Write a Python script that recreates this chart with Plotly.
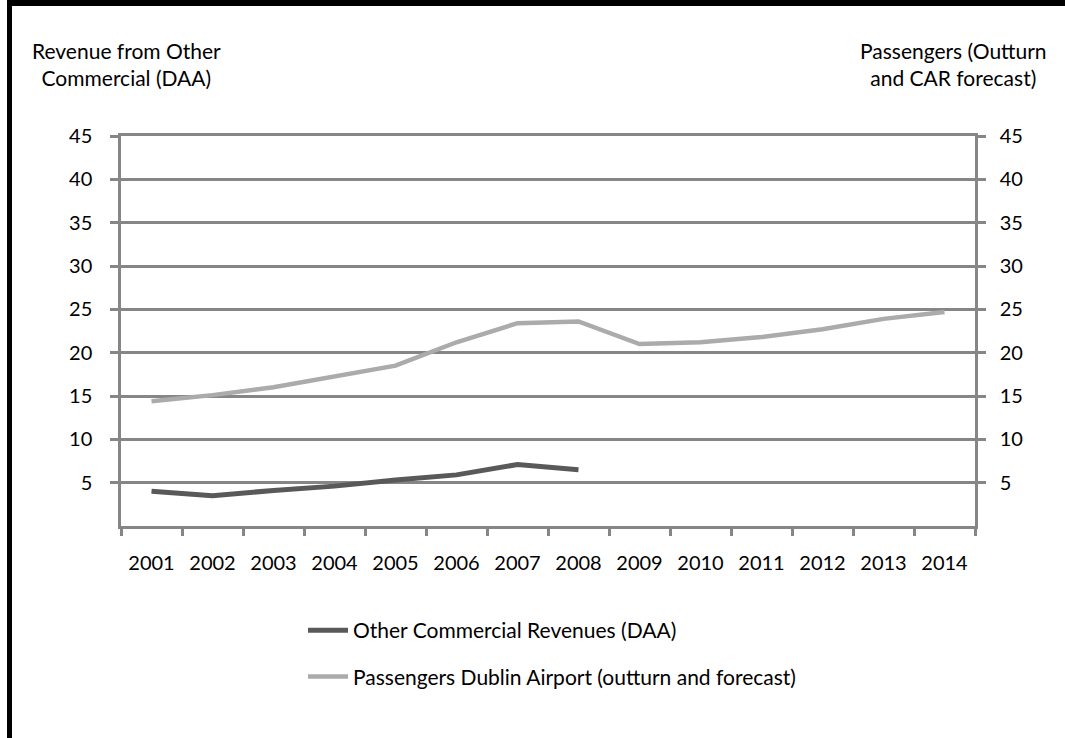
import plotly.graph_objects as go

years = [str(y) for y in range(2001, 2015)]
other_commercial = [4.0, 3.5, 4.1, 4.6, 5.3, 5.9, 7.1, 6.5]
passengers = [14.4, 15.1, 16.0, 17.2, 18.5, 21.2, 23.4, 23.6, 21.0, 21.2, 21.8, 22.7, 23.9, 24.7]
y_ticks = [5, 10, 15, 20, 25, 30, 35, 40, 45]

FONT = "Lato"
GRID = "#868686"

# plot-area geometry in pixels
W, H = 1065, 738
L, R, T, B = 121, 975, 136, 526


def px(x):
    return (x - L) / (R - L)


def py(y):
    return (B - y) / (B - T)


fig = go.Figure()
fig.add_trace(go.Scatter(
    x=years[:len(other_commercial)], y=other_commercial,
    name="Other Commercial Revenues (DAA)", mode="lines",
    line=dict(color="#595959", width=5), legendgroup="a", yaxis="y",
))
fig.add_trace(go.Scatter(
    x=years, y=passengers,
    name="Passengers Dublin Airport (outturn and forecast)", mode="lines",
    line=dict(color="#ABABAB", width=4.5), legendgroup="b", yaxis="y2",
))

tick_font = dict(family=FONT, size=20, color="black")
text_font = dict(family=FONT, size=21, color="black")

fig.update_layout(
    width=W, height=H,
    margin=dict(l=L, r=W - R, t=T, b=H - B),
    paper_bgcolor="white", plot_bgcolor="white",
    font=text_font,
    xaxis=dict(
        type="category", categoryorder="array", categoryarray=years,
        range=[-0.5, 13.5], showgrid=False, showline=True, mirror=True,
        linecolor=GRID, linewidth=2.5,
        ticks="outside", tickson="boundaries", ticklen=7, tickwidth=2.5, tickcolor=GRID,
        tickfont=tick_font, ticklabelstandoff=17,
    ),
    yaxis=dict(
        range=[0, 45], tickvals=y_ticks, showgrid=True, gridcolor=GRID, gridwidth=2.5,
        zeroline=False, showline=True, linecolor=GRID, linewidth=2.5,
        ticks="outside", ticklen=8, tickwidth=2.5, tickcolor=GRID, tickfont=tick_font,
        ticklabelstandoff=14,
    ),
    yaxis2=dict(
        range=[0, 45], tickvals=y_ticks, overlaying="y", side="right", showgrid=False,
        zeroline=False, showline=True, linecolor=GRID, linewidth=2.5,
        ticks="outside", ticklen=8, tickwidth=2.5, tickcolor=GRID, tickfont=tick_font,
        ticklabelstandoff=10,
    ),
    legend=dict(
        x=px(303), y=py(610), xanchor="left", yanchor="top",
        font=text_font,
        tracegroupgap=16, bgcolor="rgba(0,0,0,0)", itemwidth=40,
    ),
    showlegend=True,
)

fig.add_annotation(
    text="Revenue from Other<br>Commercial (DAA)", xref="paper", yref="paper",
    x=px(126), y=py(64), xanchor="center", yanchor="middle", showarrow=False,
    font=text_font, align="center",
)
fig.add_annotation(
    text="Passengers (Outturn<br>and CAR forecast)", xref="paper", yref="paper",
    x=px(953), y=py(64), xanchor="center", yanchor="middle", showarrow=False,
    font=text_font, align="center",
)

# black frame along the top and left edges
fig.add_shape(type="rect", xref="paper", yref="paper",
              x0=px(7), x1=px(W), y0=py(6), y1=py(0),
              fillcolor="black", line_width=0)
fig.add_shape(type="rect", xref="paper", yref="paper",
              x0=px(7), x1=px(12), y0=py(H), y1=py(0),
              fillcolor="black", line_width=0)

fig.write_html("out.html", config={"displayModeBar": False})
